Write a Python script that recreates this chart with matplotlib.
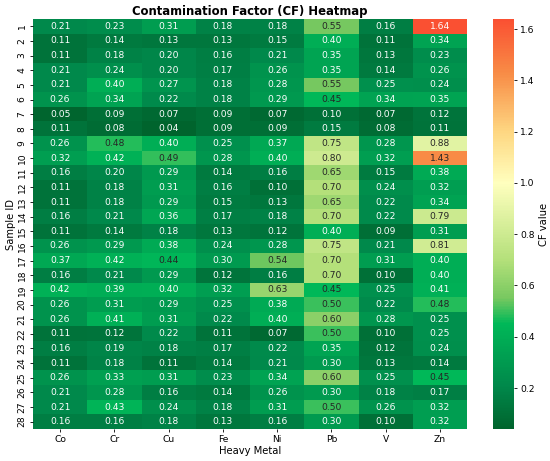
import numpy as np
import matplotlib
matplotlib.use("Agg")
import matplotlib.pyplot as plt
from matplotlib.colors import LinearSegmentedColormap, Normalize

metals = ["Co", "Cr", "Cu", "Fe", "Ni", "Pb", "V", "Zn"]
sample_ids = [str(i) for i in range(1, 29)]

co = [0.21, 0.11, 0.11, 0.21, 0.21, 0.26, 0.05, 0.11, 0.26, 0.32, 0.16, 0.11, 0.11, 0.16,
      0.11, 0.26, 0.37, 0.16, 0.42, 0.26, 0.26, 0.11, 0.16, 0.11, 0.26, 0.21, 0.21, 0.16]
cr = [0.23, 0.14, 0.18, 0.24, 0.40, 0.34, 0.09, 0.08, 0.48, 0.42, 0.20, 0.18, 0.18, 0.21,
      0.14, 0.29, 0.42, 0.21, 0.39, 0.31, 0.41, 0.12, 0.19, 0.18, 0.33, 0.28, 0.43, 0.16]
cu = [0.31, 0.13, 0.20, 0.20, 0.27, 0.22, 0.07, 0.04, 0.40, 0.49, 0.29, 0.31, 0.29, 0.36,
      0.18, 0.38, 0.44, 0.29, 0.40, 0.29, 0.31, 0.22, 0.18, 0.11, 0.31, 0.16, 0.24, 0.18]
fe = [0.18, 0.13, 0.16, 0.17, 0.18, 0.18, 0.09, 0.09, 0.25, 0.28, 0.14, 0.16, 0.15, 0.17,
      0.13, 0.24, 0.30, 0.12, 0.32, 0.25, 0.22, 0.11, 0.17, 0.14, 0.23, 0.14, 0.18, 0.13]
ni = [0.18, 0.15, 0.21, 0.26, 0.28, 0.29, 0.07, 0.09, 0.37, 0.40, 0.16, 0.10, 0.13, 0.18,
      0.12, 0.28, 0.54, 0.16, 0.63, 0.38, 0.40, 0.07, 0.22, 0.21, 0.34, 0.26, 0.31, 0.16]
pb = [0.55, 0.40, 0.35, 0.35, 0.55, 0.45, 0.10, 0.15, 0.75, 0.80, 0.65, 0.70, 0.65, 0.70,
      0.40, 0.75, 0.70, 0.70, 0.45, 0.50, 0.60, 0.50, 0.35, 0.30, 0.60, 0.30, 0.50, 0.30]
v = [0.16, 0.11, 0.13, 0.14, 0.25, 0.34, 0.07, 0.08, 0.28, 0.32, 0.15, 0.24, 0.22, 0.22,
     0.09, 0.21, 0.31, 0.10, 0.25, 0.22, 0.28, 0.10, 0.12, 0.13, 0.25, 0.18, 0.26, 0.10]
zn = [1.64, 0.34, 0.23, 0.26, 0.24, 0.35, 0.12, 0.11, 0.88, 1.43, 0.38, 0.32, 0.34, 0.79,
      0.31, 0.81, 0.40, 0.40, 0.41, 0.48, 0.25, 0.25, 0.24, 0.14, 0.45, 0.17, 0.32, 0.32]

cf = np.array([co, cr, cu, fe, ni, pb, v, zn]).T
vmin, vmax = cf.min(), cf.max()

# green -> yellow -> red, anchored on CF values
nodes = [(0.04, "#00642d"), (0.20, "#00874a"), (0.45, "#00b858"), (0.55, "#78c860"),
         (0.70, "#b4e07a"), (1.00, "#ffffbe"), (1.20, "#fed782"), (1.43, "#f88c46"),
         (1.64, "#fa5032")]
cmap = LinearSegmentedColormap.from_list(
    "cf", [((val - vmin) / (vmax - vmin), col) for val, col in nodes])
norm = Normalize(vmin, vmax)

fig = plt.figure(figsize=(5.5, 4.61), dpi=100)
ax = fig.add_axes([33 / 550, 32 / 461, 434 / 550, 410 / 461])
cax = fig.add_axes([493 / 550, 32 / 461, 21 / 550, 410 / 461])

mesh = ax.pcolormesh(cf, cmap=cmap, norm=norm)
ax.set_xlim(0, len(metals))
ax.set_ylim(len(sample_ids), 0)

for i in range(cf.shape[0]):
    for j in range(cf.shape[1]):
        val = cf[i, j]
        txt_color = "#262626" if 0.435 <= val < 1.5 else "white"
        ax.text(j + 0.5, i + 0.5, f"{val:.2f}", ha="center", va="center",
                fontsize=6.6, color=txt_color)

ax.set_xticks(np.arange(len(metals)) + 0.5)
ax.set_xticklabels(metals, fontsize=6.6)
ax.set_yticks(np.arange(len(sample_ids)) + 0.5)
ax.set_yticklabels(sample_ids, fontsize=6.6, rotation=90, va="center")
ax.tick_params(length=2.5, width=0.6, pad=2)
for s in ax.spines.values():
    s.set_visible(False)

ax.set_xlabel("Heavy Metal", fontsize=7.2, labelpad=1)
ax.set_ylabel("Sample ID", fontsize=7.2, labelpad=1)
ax.set_title("Contamination Factor (CF) Heatmap", fontsize=8.4, fontweight="bold", pad=3)

cb = fig.colorbar(mesh, cax=cax)
cb.outline.set_visible(False)
cb.ax.tick_params(labelsize=6.6, length=2.5, width=0.6, pad=2)
cb.set_label("CF value", fontsize=7.2, labelpad=3)

fig.savefig("out.png", dpi=100)
